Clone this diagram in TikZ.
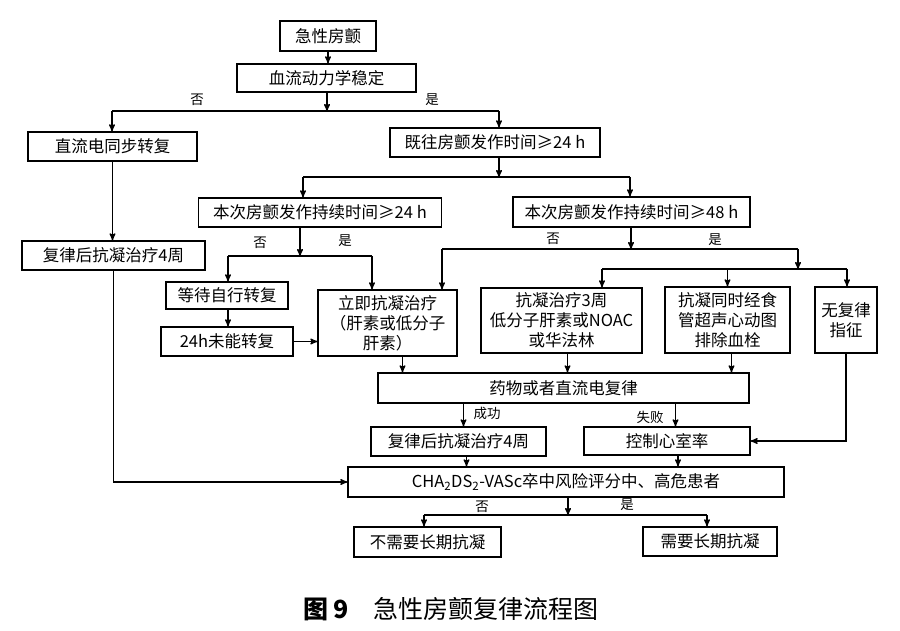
\documentclass[tikz,border=0pt]{standalone}
\usepackage{fontspec}
\newfontfamily\cjk{Noto Sans CJK SC}
\usepackage{tikz}
\usetikzlibrary{arrows}
\usetikzlibrary{positioning}
\usetikzlibrary{calc}
\tikzset{
  fc_box/.style = {draw=black, rectangle, inner sep=0pt, align=center,
    font=\cjk\fontsize{16.5}{20}\selectfont},% boite du diagramme
  fc_lbl/.style = {inner sep=1pt, font=\cjk\fontsize{13.5}{15}\selectfont},% oui / non
  fc_line/.style = {-, line width=1.4pt}
}
\begin{document}
\begin{tikzpicture}[->,>=stealth',x=1pt,y=-1pt,line width=1.4pt]
\useasboundingbox (0,0) rectangle (900,631);

\node [fc_box, minimum width=96, minimum height=30] (af) at (328,36) {急性房颤};
\node [fc_box, minimum width=179, minimum height=28] (hemo) at (326.5,78) {血流动力学稳定};
\node [fc_box, minimum width=169, minimum height=29] (dc) at (112.5,146.5) {直流电同步转复};
\node [fc_box, minimum width=210, minimum height=29] (hist) at (495,142.5) {既往房颤发作时间≥24 h};
\node [fc_box, minimum width=183, minimum height=29] (ac4L) at (113.5,255.5) {复律后抗凝治疗4周};
\node [fc_box, minimum width=243, minimum height=29] (cur24) at (320,212.5) {本次房颤发作持续时间≥24 h};
\node [fc_box, minimum width=237, minimum height=30] (cur48) at (631.5,212) {本次房颤发作持续时间≥48 h};
\node [fc_box, minimum width=122, minimum height=27] (wait) at (227,295.5) {等待自行转复};
\node [fc_box, minimum width=132, minimum height=29] (fail24) at (227,341.5) {24h未能转复};
\node [fc_box, minimum width=139, minimum height=66] (immed) at (387.5,323) {立即抗凝治疗\\（肝素或低分子\\肝素）};
\node [fc_box, minimum width=161, minimum height=65] (ac3) at (561.5,320.5) {抗凝治疗3周\\低分子肝素或NOAC\\或华法林};
\node [fc_box, minimum width=125, minimum height=66] (tee) at (727.5,320) {抗凝同时经食\\管超声心动图\\排除血栓};
\node [fc_box, minimum width=62, minimum height=66] (noind) at (846,320) {无复律\\指征};
\node [fc_box, minimum width=371, minimum height=30] (conv) at (563.5,388) {药物或者直流电复律};
\node [fc_box, minimum width=175, minimum height=29] (ac4M) at (458.5,441.5) {复律后抗凝治疗4周};
\node [fc_box, minimum width=166, minimum height=28] (rate) at (667,441) {控制心室率};
\node [fc_box, minimum width=436, minimum height=30] (cha) at (566,482) {CHA\textsubscript{2}DS\textsubscript{2}-VASc卒中风险评分中、高危患者};
\node [fc_box, minimum width=147, minimum height=30] (nolong) at (427.5,542) {不需要长期抗凝};
\node [fc_box, minimum width=134, minimum height=29] (yeslong) at (710,541.5) {需要长期抗凝};

% points de branchement
\coordinate (b1) at (327,111);
\coordinate (b1l) at (112,111);
\coordinate (b1r) at (499,111);
\coordinate (b2) at (499,177);
\coordinate (b2l) at (303,177);
\coordinate (b2r) at (630,177);
\coordinate (b3) at (300,256);
\coordinate (b3l) at (228,256);
\coordinate (b3r) at (372,256);
\coordinate (b4) at (631,249);
\coordinate (b4l) at (442,249);
\coordinate (b4r) at (798,249);
\coordinate (b5) at (798,269);
\coordinate (b5l) at (602,269);
\coordinate (b5r) at (847,269);
\coordinate (b6) at (568,515);
\coordinate (b6l) at (424,515);
\coordinate (b6r) at (707,515);

\draw (af.south) -- (af.south |- hemo.north);
\draw (hemo.south -| b1) -- (b1);
\draw[fc_line] (b1l) -- (b1r);
\draw (b1l) -- (b1l |- dc.north);
\draw (b1r) -- (b1r |- hist.north);
\node [fc_lbl] (no1) at (197,100) {否};
\node [fc_lbl] (yes1) at (432,100) {是};

\draw (dc.south) -- (dc.south |- ac4L.north);
\draw (ac4L.south) |- (cha.west);

\draw (hist.south -| b2) -- (b2);
\draw[fc_line] (b2l) -- (b2r);
\draw (b2l) -- (b2l |- cur24.north);
\draw (b2r) -- (b2r |- cur48.north);

\draw (cur24.south -| b3) -- (b3);
\draw[fc_line] (b3l) -- (b3r);
\draw (b3l) -- (b3l |- wait.north);
\draw (b3r) -- (b3r |- immed.north);
\node [fc_lbl] (no2) at (260,243) {否};
\node [fc_lbl] (yes2) at (345,241) {是};

\draw (cur48.south -| b4) -- (b4);
\draw[fc_line] (b4l) -- (b4r);
\draw (b4l) -- (b4l |- immed.north);
\draw (b4r) -- (b5);
\draw[fc_line] (b5l) -- (b5r);
\draw (b5l) -- (b5l |- ac3.north);
\draw (b5 -| tee.north) -- (tee.north);
\draw (b5r) -- (b5r |- noind.north);
\node [fc_lbl] (no3) at (553,239) {否};
\node [fc_lbl] (yes3) at (715,240) {是};

\draw (wait.south -| b3l) -- (fail24.north -| b3l);
\draw (fail24.east) -- (fail24.east -| immed.west);

\draw ([xshift=15]immed.south) -- ([xshift=15]immed.south |- conv.north);
\draw ([xshift=6]ac3.south) -- ([xshift=6]ac3.south |- conv.north);
\draw ([xshift=4]tee.south) -- ([xshift=4]tee.south |- conv.north);

\draw ([xshift=-100]conv.south) -- ([xshift=-100]conv.south |- ac4M.north);
\draw ([xshift=112]conv.south) -- ([xshift=112]conv.south |- rate.north);
\node [fc_lbl] (ok) at (487,413) {成功};
\node [fc_lbl] (ko) at (650,417) {失败};

\draw (noind.south) |- (rate.east);

\draw ([xshift=8]ac4M.south) -- ([xshift=8]ac4M.south |- cha.north);
\draw ([xshift=11]rate.south) -- ([xshift=11]rate.south |- cha.north);

\draw (cha.south -| b6) -- (b6);
\draw[fc_line] (b6l) -- (b6r);
\draw (b6l) -- (b6l |- nolong.north);
\draw (b6r) -- (b6r |- yeslong.north);
\node [fc_lbl] (no4) at (482,507) {否};
\node [fc_lbl] (yes4) at (627,505) {是};

\node [font=\cjk\fontsize{25}{29}\selectfont] (cap) at (451,609) {\textbf{图 9}\quad 急性房颤复律流程图};
\end{tikzpicture}
\end{document}
